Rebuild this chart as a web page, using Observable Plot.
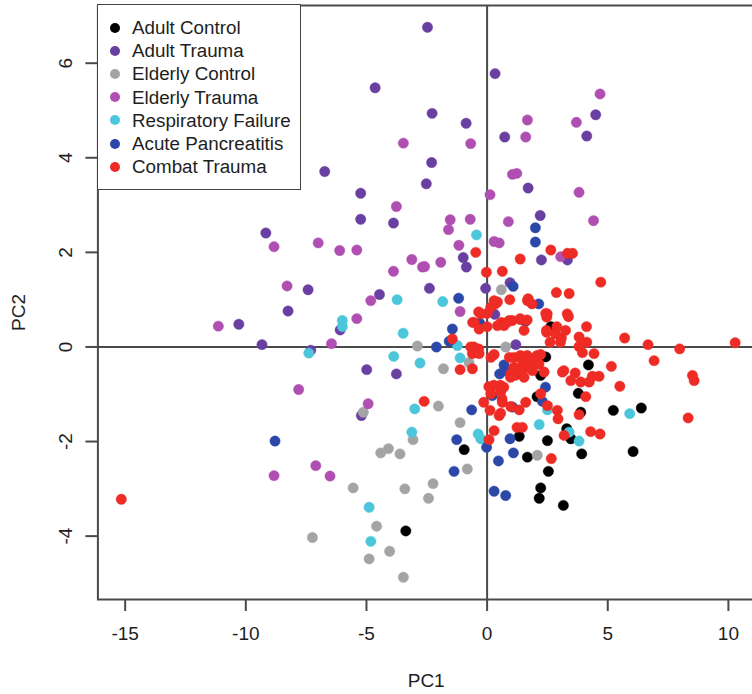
<!DOCTYPE html>
<html><head><meta charset="utf-8">
<script src="https://cdn.jsdelivr.net/npm/d3@7"></script>
<script src="https://cdn.jsdelivr.net/npm/@observablehq/plot@0.6"></script>
<style>
html,body{margin:0;padding:0;background:#fff;overflow:hidden;}
#wrap{position:relative;width:752px;height:694px;overflow:hidden;}
#wrap svg{max-width:none;}
#legend{position:absolute;left:97px;top:4px;width:204px;height:186px;border:1.6px solid #444;box-sizing:border-box;background:#fff;font-family:"Liberation Sans",Arial,sans-serif;font-size:18.8px;color:#1e1e1e;}
.row{position:absolute;left:0;height:23px;line-height:23px;white-space:nowrap;}
.sw{position:absolute;left:12px;top:6.5px;width:10px;height:10px;border-radius:50%;}
.lab{position:absolute;left:34px;top:0;}
</style></head>
<body><div id="wrap"><div id="chart"></div><div id="legend"></div></div>
<script>
const groups = ["Adult Control","Adult Trauma","Elderly Control","Elderly Trauma","Respiratory Failure","Acute Pancreatitis","Combat Trauma"];
const colors = ["#000000","#6A3FA2","#A2A4A6","#B04FB2","#4CC6DA","#2B48A8","#EE2B24"];
const xTicks = [-15,-10,-5,0,5,10];
const yTicks = [-4,-2,0,2,4,6];

const adultControl = [[-3.37,-3.89],[-0.95,-2.17],[1.33,-1.89],[1.67,-2.33],[2.54,-2.63],[2.22,-2.98],[2.16,-3.20],[3.16,-3.35],[2.50,-1.98],[3.92,-2.26],[6.05,-2.21],[5.23,-1.34],[6.39,-1.29],[3.88,-1.38],[3.30,-1.73],[3.47,-1.94],[2.07,-1.05],[3.78,-0.98],[2.22,-0.60],[2.43,-0.21],[4.20,-0.38],[2.64,0.43]];
const adultTrauma = [[-2.47,6.76],[0.33,5.78],[-4.64,5.48],[-2.28,4.94],[-0.87,4.73],[0.73,4.44],[-2.30,3.90],[-6.73,3.71],[-2.52,3.45],[-5.24,3.25],[1.70,3.36],[4.50,4.91],[4.13,4.46],[-9.17,2.41],[-7.42,1.21],[-8.25,0.76],[-10.29,0.48],[-9.33,0.05],[-7.31,-0.07],[-5.24,2.70],[-3.88,2.62],[-0.99,1.89],[-0.86,1.69],[-2.39,1.24],[-0.06,1.24],[0.95,1.36],[-4.46,1.11],[-6.09,0.36],[-4.99,-0.48],[-3.76,-0.57],[1.19,0.05],[2.20,2.78],[3.33,1.84],[2.25,1.84],[-5.21,-1.45],[0.32,0.69]];
const elderlyControl = [[0.59,1.21],[-2.89,0.02],[0.77,0.0],[-0.75,-0.33],[-1.81,-0.46],[-2.02,-1.25],[-5.13,-1.38],[-1.12,-1.60],[-3.07,-1.96],[-4.41,-2.24],[-4.09,-2.15],[-3.61,-2.26],[-0.82,-2.58],[2.08,-2.29],[-5.55,-2.98],[-3.41,-3.00],[-2.24,-2.89],[-2.43,-3.20],[-4.58,-3.79],[-4.04,-4.32],[-4.89,-4.48],[-3.47,-4.87],[-7.24,-4.03]];
const elderlyTrauma = [[1.67,4.80],[-3.47,4.31],[-0.68,4.30],[1.60,4.44],[1.05,3.65],[1.23,3.67],[0.12,3.22],[4.68,5.35],[3.70,4.75],[3.81,3.27],[-8.83,2.12],[-7.0,2.20],[-8.29,1.29],[-11.14,0.44],[-7.81,-0.90],[-3.76,2.97],[-1.53,2.69],[-1.60,2.48],[-0.70,2.70],[0.88,2.65],[-6.11,2.04],[-5.40,2.05],[0.29,2.23],[0.50,2.20],[-1.17,2.15],[-3.12,1.85],[-2.68,1.69],[-2.59,1.70],[-1.92,1.79],[-3.88,1.60],[-4.82,0.98],[-1.12,0.75],[-5.40,0.60],[-6.45,0.07],[4.41,2.67],[3.05,1.91],[-4.93,-1.20],[-7.1,-2.51],[-6.51,-2.73],[-8.83,-2.72]];
const respiratoryFailure = [[-0.44,2.37],[-3.73,1.00],[-1.84,0.96],[-6.0,0.56],[-6.0,0.43],[-3.48,0.29],[-7.39,-0.13],[-1.23,0.03],[-1.12,-0.23],[-3.87,-0.20],[-2.78,-0.34],[-3.00,-1.31],[-3.12,-1.80],[-0.37,-1.84],[-0.26,-1.94],[-4.89,-3.39],[-4.82,-4.11],[2.50,-1.33],[2.16,-1.64],[3.40,-1.80],[3.81,-1.99],[5.91,-1.41]];
const acutePancreatitis = [[2.0,2.52],[2.0,2.22],[1.08,1.28],[2.14,0.91],[-1.18,1.03],[-1.44,0.38],[-1.57,0.12],[-2.10,0.00],[1.59,0.54],[0.52,-0.57],[0.72,-0.50],[0.70,-0.38],[0.21,-1.03],[1.05,-1.27],[-0.64,-1.33],[2.42,-0.85],[2.29,-1.15],[-1.26,-1.96],[-0.02,-2.12],[0.95,-1.94],[1.09,-2.24],[0.47,-2.41],[-1.37,-2.63],[0.29,-3.05],[0.77,-3.14],[-8.79,-1.99],[-0.3,0.5]];
const combatTrauma = [[-15.16,-3.22],[-0.47,2.00],[1.37,1.86],[-0.03,1.58],[0.63,1.60],[0.94,1.00],[1.67,0.98],[-1.44,0.17],[-1.12,-0.48],[-0.61,-0.46],[2.64,2.05],[3.33,1.98],[3.54,1.98],[4.71,1.37],[2.87,1.15],[3.40,1.13],[2.43,0.71],[2.47,0.63],[3.37,0.64],[2.89,0.43],[2.47,0.31],[3.08,0.19],[4.12,0.43],[3.81,0.21],[4.13,0.10],[3.81,0.01],[2.61,0.10],[3.04,0.10],[3.95,-0.12],[4.43,-0.14],[5.70,0.19],[6.67,0.05],[6.92,-0.29],[7.98,-0.04],[10.28,0.09],[8.51,-0.60],[8.58,-0.71],[8.33,-1.50],[5.15,-0.41],[5.50,-0.83],[3.12,-0.53],[3.65,-0.55],[3.47,-0.71],[3.88,-0.74],[4.23,-0.74],[4.36,-0.62],[4.64,-0.62],[2.22,-0.16],[2.15,-0.36],[2.36,-0.53],[2.22,-0.99],[4.09,-1.05],[3.81,-1.43],[2.91,-1.34],[2.94,-1.52],[2.50,-1.24],[3.19,-1.87],[4.29,-1.79],[4.68,-1.84],[2.66,-2.36],[3.18,-0.50],[1.70,1.02],[1.86,0.91],[0.34,0.91],[-0.35,0.74],[-0.60,0.52],[0.59,0.52],[0.83,0.52],[1.04,0.56],[1.38,0.58],[0.0,0.43],[1.66,0.57],[2.49,0.70],[3.32,0.70],[2.46,0.35],[2.83,0.28],[3.25,0.35],[-0.55,0.0],[-0.35,-0.04],[1.38,-0.18],[1.66,-0.18],[1.86,-0.25],[2.07,-0.18],[1.11,-0.43],[1.32,-0.46],[1.59,-0.43],[1.79,-0.39],[2.07,-0.36],[0.97,-0.64],[1.17,-0.60],[0.07,-0.84],[0.28,-0.81],[0.55,-0.81],[0.69,-0.85],[0.62,-1.10],[0.15,-0.99],[0.56,-0.96],[-0.14,-1.17],[0.12,-1.34],[0.50,-1.45],[0.56,-1.40],[0.63,-1.17],[0.98,-1.26],[1.33,-1.33],[1.60,-1.17],[0.08,-1.96],[0.29,-1.77],[1.24,-1.70],[1.46,-1.70],[-2.61,-1.15],[0.16,-0.22],[0.29,-0.16],[0.92,-0.22],[1.12,-0.22],[1.46,-0.29],[1.67,-0.43],[1.37,-0.53],[0.98,-0.57],[1.53,-0.64],[1.88,-0.50],[0.43,0.45],[0.70,0.45],[0.92,0.56],[1.37,0.60],[1.53,0.35],[-0.26,0.70],[-0.54,0.52],[-0.33,0.38],[-0.68,0.0],[-0.61,-0.14],[-0.33,-0.14],[0.29,0.98],[0.15,0.84],[0.0,0.71],[0.43,0.95]];

const series = [adultControl, adultTrauma, elderlyControl, elderlyTrauma, respiratoryFailure, acutePancreatitis, combatTrauma];
const data = series.flatMap((arr, gi) => arr.map(([pc1, pc2]) => ({group: groups[gi], pc1, pc2})));

const font = "'Liberation Sans', Arial, sans-serif";
const axisColor = "#4a4a4a";
const textColor = "#1e1e1e";

const chart = Plot.plot({
  width: 752, height: 694,
  marginLeft: 97.4, marginRight: -8, marginTop: 5, marginBottom: 95,
  style: {fontFamily: font, background: "#fff", overflow: "hidden"},
  x: {domain: [-16.13, 11.33], axis: null},
  y: {domain: [-5.34, 7.22], axis: null},
  color: {domain: groups, range: colors},
  marks: [
    Plot.ruleX([0], {stroke: axisColor, strokeWidth: 2}),
    Plot.ruleY([0], {stroke: axisColor, strokeWidth: 2}),
    Plot.dot(data, {x: "pc1", y: "pc2", fill: "group", r: 5.2, stroke: "group", strokeWidth: 0.4}),
    Plot.frame({stroke: axisColor, strokeWidth: 2}),
    Plot.axisX(xTicks, {anchor: "bottom", tickSize: 12, stroke: axisColor, strokeWidth: 2, tickFormat: () => "", label: null}),
    Plot.axisY(yTicks, {anchor: "left", tickSize: 12, stroke: axisColor, strokeWidth: 2, tickFormat: () => "", label: null}),
    Plot.text(xTicks, {x: d => d, frameAnchor: "bottom", dy: 34, lineAnchor: "middle", fontSize: 19, fill: textColor, text: d => String(d)}),
    Plot.text(yTicks, {y: d => d, frameAnchor: "left", dx: -32, rotate: -90, textAnchor: "middle", lineAnchor: "middle", fontSize: 19, fill: textColor, text: d => String(d)}),
    Plot.text(["PC1"], {frameAnchor: "bottom", dy: 81, dx: -3, lineAnchor: "middle", fontSize: 19, fill: textColor}),
    Plot.text(["PC2"], {frameAnchor: "left", dx: -79, dy: 10, rotate: -90, textAnchor: "middle", lineAnchor: "middle", fontSize: 19, fill: textColor})
  ]
});
document.getElementById("chart").appendChild(chart);

const legend = document.getElementById("legend");
groups.forEach((g, i) => {
  const row = document.createElement("div");
  row.className = "row";
  row.style.top = (11 + i * 23.2) + "px";
  const sw = document.createElement("span");
  sw.className = "sw";
  sw.style.background = colors[i];
  const lab = document.createElement("span");
  lab.className = "lab";
  lab.textContent = g;
  row.appendChild(sw); row.appendChild(lab);
  legend.appendChild(row);
});
</script></body></html>
